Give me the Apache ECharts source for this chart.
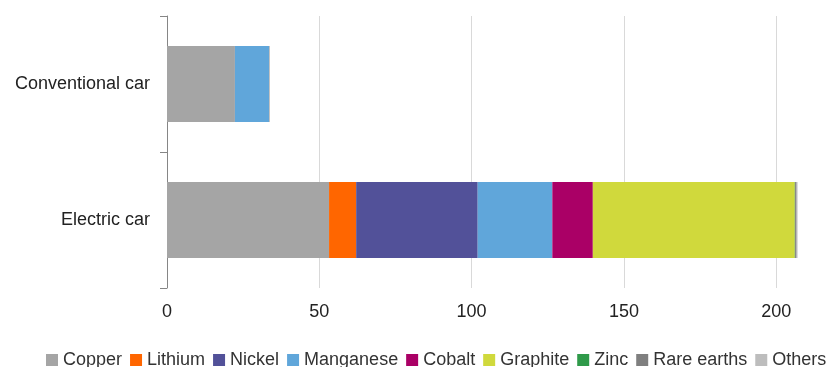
<!DOCTYPE html>
<html><head><meta charset="utf-8">
<script src="https://cdn.jsdelivr.net/npm/echarts@6/dist/echarts.min.js"></script>
<style>html,body{margin:0;padding:0;background:#fff}#c{width:829px;height:367px}</style>
</head><body><div id="c"></div>
<script>
const categories = ['Electric car', 'Conventional car'];
const seriesNames = ['Copper','Lithium','Nickel','Manganese','Cobalt','Graphite','Zinc','Rare earths','Others'];
const copper     = [53.2, 22.3];
const lithium    = [8.9, 0];
const nickel     = [39.9, 0];
const manganese  = [24.5, 11.2];
const cobalt     = [13.3, 0];
const graphite   = [66.3, 0];
const zinc       = [0.1, 0];
const rareEarths = [0.5, 0];
const others     = [0.3, 0.3];
const xTicks = [0, 50, 100, 150, 200, 250];

const values = [copper, lithium, nickel, manganese, cobalt, graphite, zinc, rareEarths, others];
const colors = ['#a5a5a5','#ff6600','#525199','#60a6da','#aa0066','#d0d93c','#2f9a4a','#7f7f7f','#bdbdbd'];
const font = 'Liberation Sans';

const chart = echarts.init(document.getElementById('c'), null, {renderer:'canvas'});
chart.setOption({
  animation:false,
  textStyle:{fontFamily:font},
  grid:{left:167, top:16, width:761.5, height:272, containLabel:false, outerBoundsMode:'none'},
  legend:{
    data:seriesNames, left:46, top:351, width:1000, padding:0, itemWidth:12, itemHeight:12, itemGap:8,
    icon:'rect',
    textStyle:{fontSize:18, color:'#333', fontFamily:font}
  },
  xAxis:{
    type:'value', min:xTicks[0], max:xTicks[xTicks.length-1], interval:50,
    axisLine:{show:false}, axisTick:{show:false},
    splitLine:{lineStyle:{color:'#d9d9d9', width:1}},
    axisLabel:{fontSize:18, color:'#222', margin:15, fontFamily:font}
  },
  yAxis:{
    type:'category', data:categories,
    axisLine:{lineStyle:{color:'#868686', width:1}},
    axisTick:{show:true, length:7, lineStyle:{color:'#868686'}},
    axisLabel:{fontSize:18, color:'#222', margin:17, fontFamily:font}
  },
  series: seriesNames.map((n,i)=>({
    name:n, type:'bar', stack:'total', data:values[i],
    barWidth:76,
    itemStyle:{color:colors[i]}
  }))
});
</script></body></html>
